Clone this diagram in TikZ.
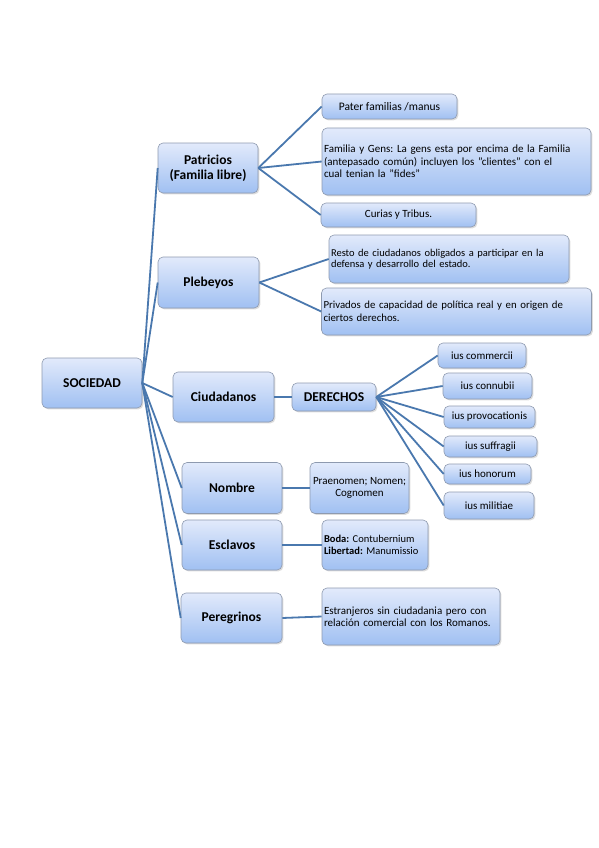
\documentclass[tikz,border=0pt]{standalone}
\usepackage{fontspec}
\setmainfont{Carlito}
\frenchspacing
\usetikzlibrary{shadows}
\definecolor{boxtop}{HTML}{E2EAFB}
\definecolor{boxbottom}{HTML}{A0C0F2}
\definecolor{boxline}{HTML}{8E9AAF}
\definecolor{linkblue}{HTML}{4A78AE}
\begin{document}
\begin{tikzpicture} [x = 1pt, y = -1pt,
	box/.style = {draw = boxline, line width = 0.6pt, rounded corners = 5pt, top color = boxtop, bottom color = boxbottom, drop shadow = {opacity = 0.28, shadow xshift = 1.4pt, shadow yshift = -1.4pt}, inner sep = 2pt, align = center},
	big/.style = {box, font = \fontsize{13.5}{15}\selectfont\bfseries},
	small/.style = {box, font = \fontsize{11}{12.5}\selectfont},
	link/.style = {draw = linkblue, line width = 1.8pt}]
	\useasboundingbox (0,0) rectangle (599,848);
	\node [big, minimum width = 100pt, minimum height = 50pt] (soc) at (92,383) {SOCIEDAD};
	\node [big, minimum width = 100pt, minimum height = 50pt] (patr) at (208,168) {Patricios\\(Familia libre)};
	\node [big, minimum width = 101pt, minimum height = 51pt] (pleb) at (208.5,282.5) {Plebeyos};
	\node [big, minimum width = 101pt, minimum height = 50pt] (ciud) at (223.5,397) {Ciudadanos};
	\node [big, minimum width = 100pt, minimum height = 51pt] (nomb) at (232,488) {Nombre};
	\node [big, minimum width = 100pt, minimum height = 50pt] (escl) at (232,545) {Esclavos};
	\node [big, minimum width = 101pt, minimum height = 50pt] (pere) at (231.5,618) {Peregrinos};
	\node [small, font = \fontsize{11.5}{13}\selectfont, minimum width = 135pt, minimum height = 25pt] (pater) at (389.5,106.5) {Pater familias /manus};
	\node [small, text width = 265pt, align = left, minimum height = 67pt] (fam) at (456.5,161.5) {Familia y Gens: La gens esta por encima de la Familia\\(antepasado común) incluyen los "clientes" con el\\cual tenian la "fides"};
	\node [small, minimum width = 155pt, minimum height = 24pt] (cur) at (398.5,215) {Curias y Tribus.};
	\node [small, font = \fontsize{10.5}{11.5}\selectfont, text width = 236pt, align = left, minimum height = 48pt] (resto) at (449,259) {Resto de ciudadanos obligados a participar en la\\defensa y desarrollo del estado.};
	\node [small, font = \fontsize{10.8}{12.7}\selectfont, text width = 266pt, align = left, minimum height = 47pt] (priv) at (456.5,311.5) {Privados de capacidad de política real y en origen de\\ciertos derechos.};
	\node [big, minimum width = 84pt, minimum height = 28pt] (der) at (334,397) {DERECHOS};
	\node [small, minimum width = 88pt, minimum height = 25pt] (i1) at (482,355.5) {ius commercii};
	\node [small, minimum width = 89pt, minimum height = 26pt] (i2) at (487.5,386) {ius connubii};
	\node [small, minimum width = 91pt, minimum height = 22pt] (i3) at (489.5,417) {ius provocationis};
	\node [small, minimum width = 93pt, minimum height = 21pt] (i4) at (490.5,446.5) {ius suffragii};
	\node [small, minimum width = 87pt, minimum height = 20pt] (i5) at (487.5,474) {ius honorum};
	\node [small, minimum width = 90pt, minimum height = 27pt] (i6) at (489,505.5) {ius militiae};
	\node [small, minimum width = 99pt, minimum height = 51pt] (prae) at (359.5,488) {Praenomen; Nomen;\\Cognomen};
	\node [small, font = \fontsize{10.5}{12}\selectfont, text width = 102pt, align = left, minimum height = 50pt] (boda) at (375,545) {\textbf{Boda:} Contubernium\\\textbf{Libertad:} Manumissio};
	\node [small, text width = 174pt, align = left, minimum height = 57pt] (estr) at (411,616.5) {Estranjeros sin ciudadania pero con\\relación comercial con los Romanos.};
	\draw [link] (soc.east) -- (patr.west);
	\draw [link] (soc.east) -- (pleb.west);
	\draw [link] (soc.east) -- (ciud.west);
	\draw [link] (soc.east) -- (nomb.west);
	\draw [link] (soc.east) -- (escl.west);
	\draw [link] (soc.east) -- (pere.west);
	\draw [link] (patr.east) -- (pater.west);
	\draw [link] (patr.east) -- (fam.west);
	\draw [link] (patr.east) -- (cur.west);
	\draw [link] (pleb.east) -- (resto.west);
	\draw [link] (pleb.east) -- (priv.west);
	\draw [link] (ciud.east) -- (der.west);
	\draw [link] (der.east) -- (i1.west);
	\draw [link] (der.east) -- (i2.west);
	\draw [link] (der.east) -- (i3.west);
	\draw [link] (der.east) -- (i4.west);
	\draw [link] (der.east) -- (i5.west);
	\draw [link] (der.east) -- (i6.west);
	\draw [link] (nomb.east) -- (prae.west);
	\draw [link] (escl.east) -- (boda.west);
	\draw [link] (pere.east) -- (estr.west);
\end{tikzpicture}
\end{document}
